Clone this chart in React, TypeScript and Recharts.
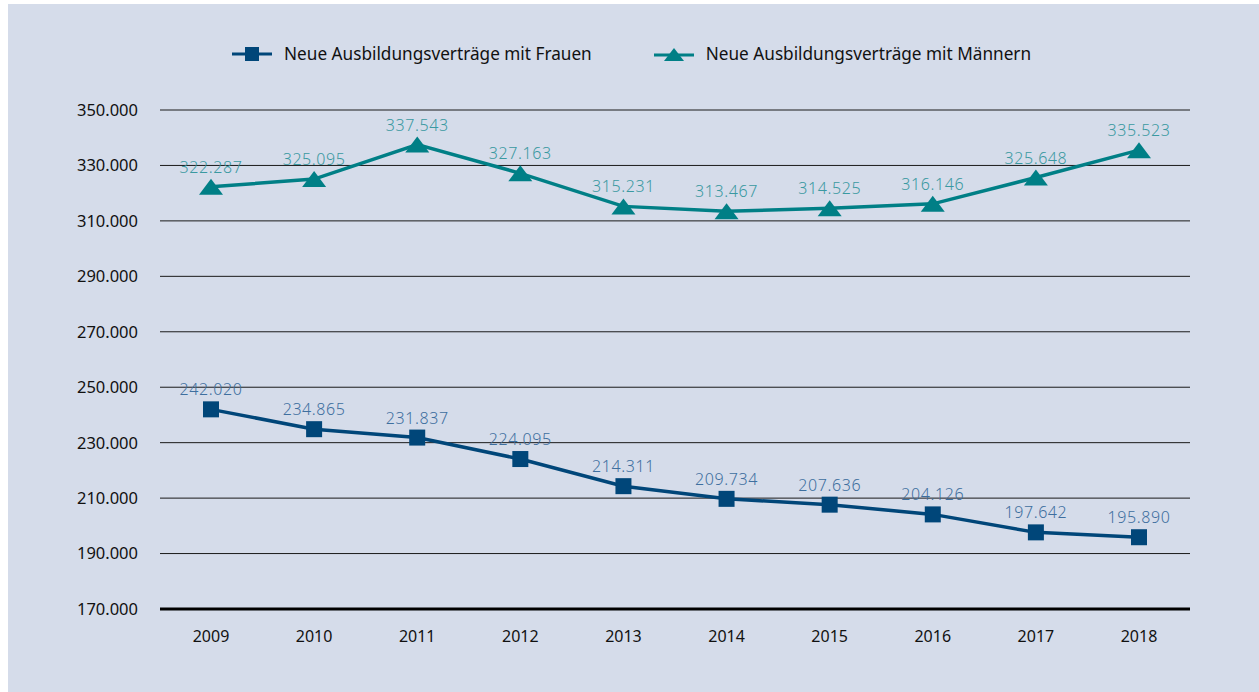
import React from 'react'
import {
    CartesianGrid,
    LabelList,
    Line,
    LineChart,
    XAxis,
    YAxis,
} from 'recharts'

const YEARS = ['2009', '2010', '2011', '2012', '2013', '2014', '2015', '2016', '2017', '2018']
const FRAUEN = [242020, 234865, 231837, 224095, 214311, 209734, 207636, 204126, 197642, 195890]
const MAENNER = [322287, 325095, 337543, 327163, 315231, 313467, 314525, 316146, 325648, 335523]
const Y_TICKS = [170000, 190000, 210000, 230000, 250000, 270000, 290000, 310000, 330000, 350000]

const DATA = YEARS.map((year, i) => ({ year, frauen: FRAUEN[i], maenner: MAENNER[i] }))

const BLUE = '#004679'
const TEAL = '#007f86'
const BLUE_LABEL = '#3e6f9f'
const TEAL_LABEL = '#3a99a1'
const BG = '#d5dcea'
const FONT = '"Noto Sans", sans-serif'

const fmt = (v: number) => new Intl.NumberFormat('de-DE').format(v)

const SquareDot = (props: any) => {
    const { cx, cy } = props
    if (cx == null || cy == null) return null
    return <rect x={cx - 8} y={cy - 8} width={16} height={16} fill={BLUE} />
}

const TriangleDot = (props: any) => {
    const { cx, cy } = props
    if (cx == null || cy == null) return null
    return <path d={`M${cx - 12},${cy + 8} L${cx},${cy - 8} L${cx + 12},${cy + 8} Z`} fill={TEAL} />
}

const LegendBox = () => (
    <div
        style={{
            position: 'absolute',
            top: 38,
            left: 224,
            display: 'flex',
            alignItems: 'center',
            fontFamily: FONT,
            fontSize: 17.2,
            color: '#111',
            lineHeight: '24px',
        }}
    >
        <div style={{ display: 'flex', alignItems: 'center', marginRight: 62 }}>
            <svg width={40} height={16} style={{ marginRight: 12 }}>
                <line x1={0} y1={8} x2={40} y2={8} stroke={BLUE} strokeWidth={3} />
                <rect x={13} y={1} width={14} height={14} fill={BLUE} />
            </svg>
            <span>Neue Ausbildungsverträge mit Frauen</span>
        </div>
        <div style={{ display: 'flex', alignItems: 'center' }}>
            <svg width={40} height={16} style={{ marginRight: 12 }}>
                <line x1={0} y1={9} x2={40} y2={9} stroke={TEAL} strokeWidth={3} />
                <path d="M10,15 L20,2 L30,15 Z" fill={TEAL} />
            </svg>
            <span>Neue Ausbildungsverträge mit Männern</span>
        </div>
    </div>
)

const labelStyle = (fill: string) => ({
    fontSize: 16,
    fill,
    fontFamily: FONT,
    fontWeight: 300,
    letterSpacing: 0.6,
})

export default function App() {
    return (
        <div style={{ position: 'absolute', left: 8, top: 4, width: 1251, height: 688, background: BG }}>
            <LegendBox />
            <LineChart
                width={1251}
                height={688}
                data={DATA}
                margin={{ top: 106, right: 69, left: 0, bottom: 0 }}
            >
                <CartesianGrid vertical={false} stroke="#1a1a1a" strokeWidth={1} />
                <XAxis
                    dataKey="year"
                    padding={{ left: 51, right: 51 }}
                    axisLine={{ stroke: '#000', strokeWidth: 3 }}
                    tickLine={false}
                    tickSize={0}
                    tickMargin={22}
                    height={83}
                    tick={{ fontSize: 16, fill: '#111', fontFamily: FONT }}
                />
                <YAxis
                    domain={[170000, 350000]}
                    ticks={Y_TICKS}
                    interval={0}
                    axisLine={false}
                    tickLine={false}
                    tickSize={0}
                    tickMargin={22}
                    width={152}
                    tickFormatter={fmt}
                    tick={{ fontSize: 16.5, fill: '#111', fontFamily: FONT }}
                />
                <Line
                    dataKey="frauen"
                    stroke={BLUE}
                    strokeWidth={3.5}
                    dot={<SquareDot />}
                    activeDot={false}
                    isAnimationActive={false}
                >
                    <LabelList
                        dataKey="frauen"
                        position="top"
                        offset={14}
                        formatter={(v: any) => fmt(v)}
                        style={labelStyle(BLUE_LABEL)}
                    />
                </Line>
                <Line
                    dataKey="maenner"
                    stroke={TEAL}
                    strokeWidth={3.5}
                    dot={<TriangleDot />}
                    activeDot={false}
                    isAnimationActive={false}
                >
                    <LabelList
                        dataKey="maenner"
                        position="top"
                        offset={14}
                        formatter={(v: any) => fmt(v)}
                        style={labelStyle(TEAL_LABEL)}
                    />
                </Line>
            </LineChart>
        </div>
    )
}
